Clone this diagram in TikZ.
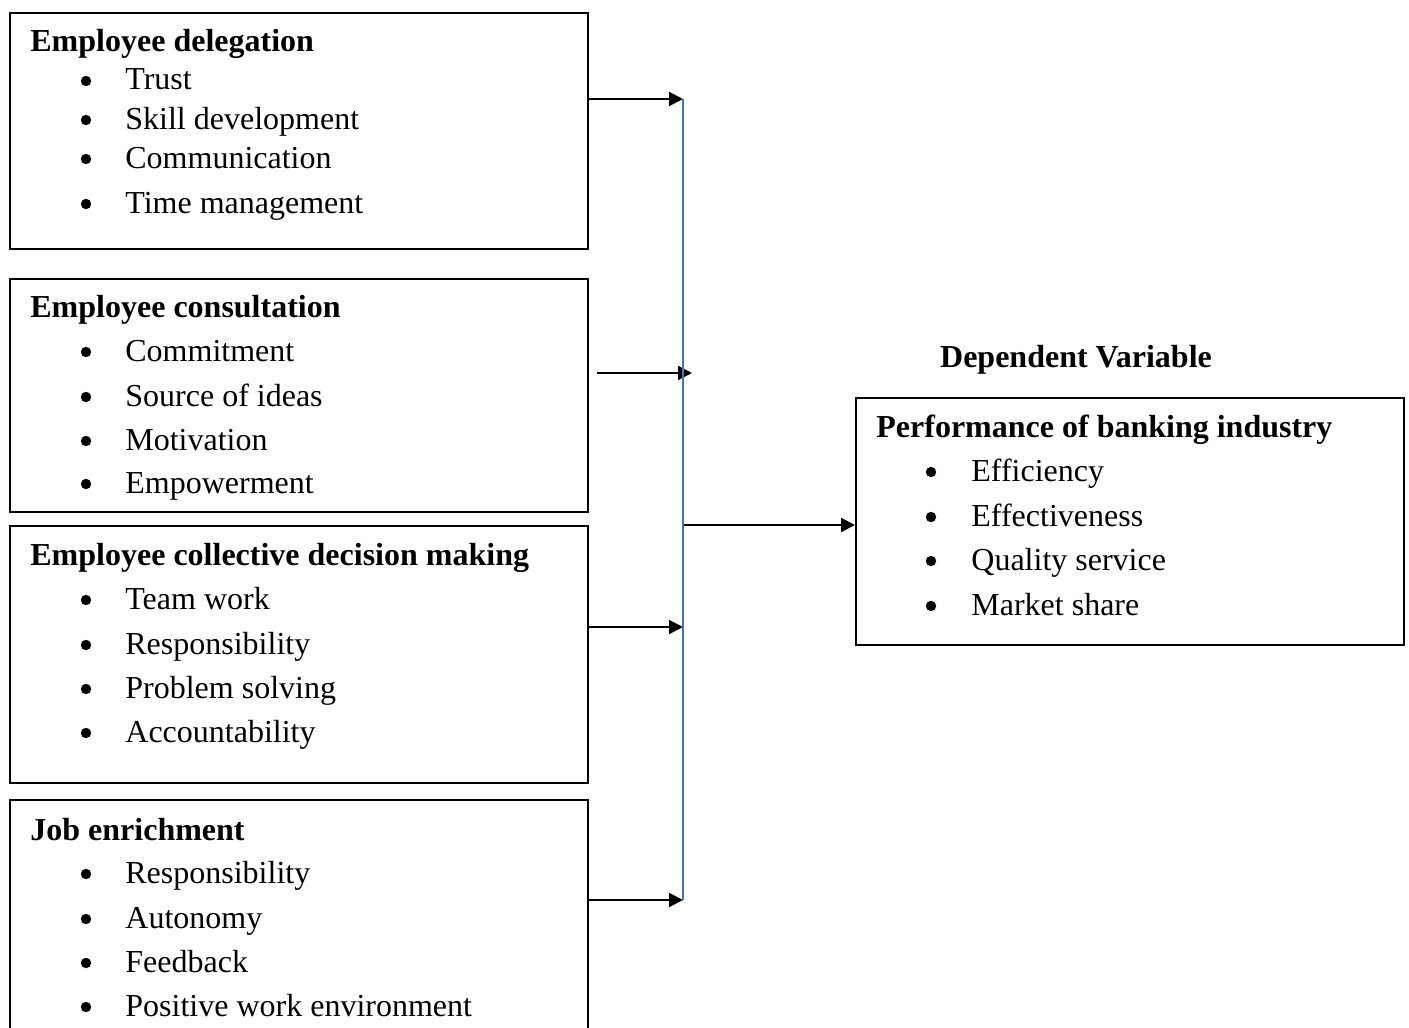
\documentclass[tikz,border=0pt]{standalone}
\usepackage{fontspec}
\setmainfont{Liberation Serif}
\usetikzlibrary{arrows.meta}
\definecolor{lineblue}{RGB}{68,114,196}
\begin{document}
\begin{tikzpicture}[x=0.5pt,y=-0.5pt,
  box/.style={draw, line width=1.2pt, anchor=north west, inner sep=0pt, rectangle},
  head/.style={anchor=base west, inner sep=0pt, font=\bfseries\fontsize{16pt}{19pt}\selectfont},
  itm/.style={anchor=base west, inner sep=0pt, font=\fontsize{16pt}{19pt}\selectfont},
  arr/.style={line width=1pt, -{Triangle[length=7pt,width=7pt]}}]
\useasboundingbox (0,0) rectangle (1409,1028);

% boxes
\node[box, minimum width=289pt, minimum height=118pt] (b1) at (9,12) {};
\node[box, minimum width=289pt, minimum height=116.5pt] (b2) at (9,278) {};
\node[box, minimum width=289pt, minimum height=128.5pt] (b3) at (9,525) {};
\node[box, minimum width=289pt, minimum height=130pt] (b4) at (9,799) {};
\node[box, minimum width=274pt, minimum height=123.5pt] (rb) at (855,397) {};

% headings
\node[head] (h1) at (30,51) {Employee delegation};
\node[head] (h2) at (30,317) {Employee consultation};
\node[head] (h3) at (30,565) {Employee collective decision making};
\node[head] (h4) at (30,840) {Job enrichment};
\node[head] (h5) at (876,437) {Performance of banking industry};
\node[head, anchor=base] (dv) at (1076,367) {Dependent Variable};

% items left
\foreach \y/\t [count=\i] in {80/Trust, 119/Skill development, 158/Communication, 203/Time management,
  351/Commitment, 396/Source of ideas, 440/Motivation, 483/Empowerment,
  599/Team work, 644/Responsibility, 688/Problem solving, 732/Accountability,
  873/Responsibility, 918/Autonomy, 962/Feedback, 1006/Positive work environment}{
  \fill (86,\y+1) circle (2.6pt);
  \node[itm] (l\i) at (125,\y+10) {\t};
}
% items right
\foreach \y/\t [count=\i] in {471/Efficiency, 516/Effectiveness, 560/Quality service, 605/Market share}{
  \fill (931,\y+1) circle (2.6pt);
  \node[itm] (r\i) at (971,\y+10) {\t};
}

% connectors
\coordinate (vt) at (683,99);
\coordinate (vb) at (683,900);
\coordinate (v3) at (683,627);
\coordinate (v5) at (683,525);
\coordinate (a2s) at (597,373);
\coordinate (a2e) at (692,373);
\draw[arr] (b1.east |- vt) -- (vt);
\draw[arr] (a2s) -- (a2e);
\draw[arr] (b3.east |- v3) -- (v3);
\draw[arr] (b4.east |- vb) -- (vb);
\draw[arr] (v5) -- (rb.west |- v5);
\draw[lineblue, line width=1pt] (vt) -- (vb);
\end{tikzpicture}
\end{document}
